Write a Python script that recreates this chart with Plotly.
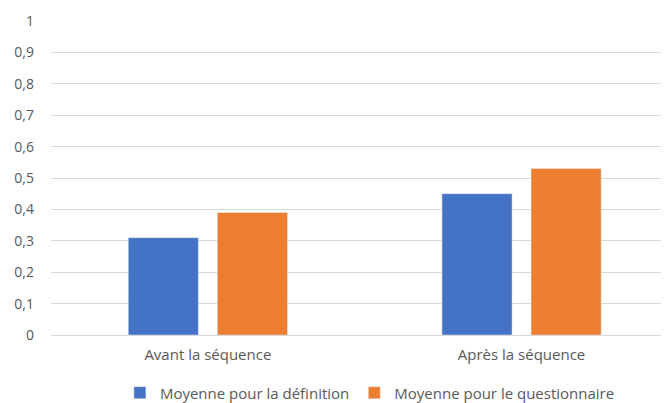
import plotly.graph_objects as go

categories = ["Avant la séquence", "Après la séquence"]
series_names = ["Moyenne pour la définition", "Moyenne pour le questionnaire"]
definition_values = [0.31, 0.45]
questionnaire_values = [0.39, 0.53]
y_ticks = [0, 0.1, 0.2, 0.3, 0.4, 0.5, 0.6, 0.7, 0.8, 0.9, 1]

font_family = "'Open Sans', sans-serif"
grey = "#595959"

fig = go.Figure()
fig.add_trace(go.Bar(x=categories, y=definition_values, name=series_names[0],
                     marker=dict(color="#4472C4")))
fig.add_trace(go.Bar(x=categories, y=questionnaire_values, name=series_names[1],
                     marker=dict(color="#ED7D31")))

# page body has an 8px margin, so the figure is 661x395 and offset by 8px
fig.update_layout(
    width=661, height=395,
    margin=dict(l=43, r=0, t=13, b=68, autoexpand=False),
    paper_bgcolor="white", plot_bgcolor="white",
    separators=", ",
    barmode="group", bargap=0.432, bargroupgap=0.213,
    font=dict(family=font_family, size=15, color=grey),
    showlegend=True,
    legend=dict(orientation="h", x=0.516, xanchor="center", y=-0.132, yanchor="top",
                font=dict(size=15, color=grey), traceorder="normal"),
)
fig.update_xaxes(range=[-0.5, 1.47], showgrid=False, showline=False, ticks="",
                 tickfont=dict(size=15, color=grey), ticklabelstandoff=9, automargin=False)
fig.update_yaxes(range=[0, 1], tickvals=y_ticks, showgrid=True, gridcolor="#D9D9D9",
                 gridwidth=1, zeroline=True, zerolinecolor="#D9D9D9", zerolinewidth=1,
                 showline=False, ticks="", tickfont=dict(size=14, color=grey),
                 ticklabelstandoff=16, automargin=False)

fig.write_html("out.html")
